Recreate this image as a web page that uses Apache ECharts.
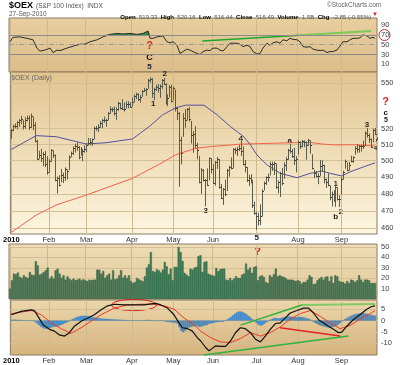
<!DOCTYPE html>
<html><head><meta charset="utf-8">
<script src="https://cdn.jsdelivr.net/npm/echarts@6/dist/echarts.min.js"></script>
<style>html,body{margin:0;padding:0;background:#fff}#c{width:400px;height:365px}</style>
</head><body><div id="c"></div>
<script>
// ---------- data ----------
const monthIdx = [0,19,38,61,82,102,124,145,167];
const monthLbl = ['2010','Feb','Mar','Apr','May','Jun','Jul','Aug','Sep'];
const priceTicks = [460,470,480,490,500,510,520,550];
const rsiTicks = [10,30,50,70,90];
const volTicks = [10,20,30,40,50];
const macdTicks = [-10,-5,0,5];

const high = [519.6,522.3,523.0,524.6,525.8,528.0,525.2,527.1,528.1,528.3,529.5,527.5,523.8,512.7,505.8,506.9,504.9,505.7,502.4,
500.5,506.8,506.1,503.5,490.0,490.8,494.6,492.3,495.5,494.3,503.0,505.3,508.5,510.2,510.9,508.7,508.1,506.6,509.0,
510.4,513.8,513.6,513.5,521.0,521.4,522.6,524.7,525.9,527.5,526.0,530.4,534.2,533.4,534.1,533.4,537.3,536.6,539.0,536.7,537.4,537.5,536.9,
540.0,541.9,543.2,542.9,541.7,544.9,546.5,546.3,552.5,553.6,553.0,546.6,548.6,549.0,548.8,552.4,553.2,549.5,542.1,548.3,548.6,
547.3,545.4,533.6,530.5,514.6,529.8,532.3,533.1,533.6,524.7,518.2,521.3,510.7,502.6,495.1,494.5,488.4,494.9,501.7,501.2,
497.6,499.4,501.9,500.7,485.6,483.1,488.1,494.6,496.5,501.6,507.4,507.6,508.2,509.4,514.1,508.4,500.0,495.7,491.0,491.4,488.1,475.1,
469.1,468.6,473.5,482.3,487.0,490.1,491.8,499.0,499.0,499.0,497.9,487.6,492.8,495.1,498.6,501.8,507.0,510.1,507.0,507.5,502.4,
512.3,511.6,512.6,512.3,511.6,513.2,512.3,503.6,494.0,493.3,491.8,500.1,499.9,497.1,488.8,491.9,484.6,481.0,481.8,484.2,483.5,478.7,
489.6,493.5,500.3,498.6,498.9,502.7,502.4,508.6,510.0,509.5,509.4,512.1,518.0,520.1,516.6,513.5,519.8,520.2];
const low = [513.9,518.8,520.6,519.9,521.6,523.3,519.8,520.3,525.1,519.6,520.8,519.4,511.6,500.6,501.2,499.5,496.8,496.3,491.7,
493.0,499.6,502.0,487.7,480.5,484.7,487.1,486.7,488.0,488.8,494.5,502.4,503.8,505.3,506.4,501.1,503.3,499.9,505.2,
505.6,509.7,509.7,509.4,513.6,519.0,518.2,520.9,520.7,524.2,521.6,525.8,530.0,531.1,528.8,526.1,531.9,532.9,532.6,531.4,533.4,533.6,534.0,
534.5,537.4,539.6,538.3,537.3,541.2,544.5,541.9,546.4,550.6,540.5,538.9,545.0,544.0,540.5,546.6,549.0,536.0,535.0,540.8,537.4,
538.8,531.5,525.9,484.4,498.0,515.2,521.0,525.7,524.9,510.9,505.1,507.8,501.1,486.5,480.1,487.6,473.0,484.9,488.3,492.5,
486.1,485.1,495.2,483.4,477.1,473.7,478.9,481.9,490.4,494.9,495.6,504.3,503.2,506.2,503.2,497.4,493.1,487.3,484.9,486.5,471.9,468.0,
459.5,461.8,462.1,467.0,482.3,485.5,487.5,491.2,494.0,491.5,483.3,480.6,478.4,485.3,489.3,494.0,500.7,504.6,501.9,497.6,493.1,
503.9,507.5,508.6,508.6,500.8,509.5,504.6,494.9,489.6,490.0,486.0,490.7,493.5,486.5,483.7,484.8,476.5,472.8,475.6,472.6,476.3,472.5,
479.9,488.7,495.4,493.8,494.2,499.3,498.9,504.0,505.2,505.2,505.9,507.6,509.4,514.6,511.3,508.2,511.7,516.4];
const close = [519.2,521.7,521.9,524.0,525.5,526.5,521.5,525.9,527.1,521.4,528.0,522.4,512.5,501.1,503.4,501.3,503.8,497.8,492.9,
499.9,506.4,503.7,488.0,489.4,485.0,491.4,490.3,495.0,493.7,502.5,504.7,508.0,509.1,508.6,502.4,507.3,506.2,507.0,
509.9,511.1,511.3,513.2,520.4,520.3,521.2,523.5,525.7,525.5,525.8,529.9,533.0,532.8,530.1,532.8,536.6,533.6,532.7,533.1,536.2,536.2,534.4,
537.2,541.5,542.4,539.2,541.0,544.6,545.6,546.0,552.1,552.5,543.6,546.1,547.4,546.9,548.1,552.0,549.7,536.8,540.3,547.3,538.2,
546.4,533.4,529.9,512.7,504.9,527.1,525.3,532.5,526.1,516.2,516.7,509.4,506.8,487.0,494.4,488.0,488.1,485.4,501.3,495.1,
486.6,499.2,501.2,484.0,477.4,482.7,479.8,494.0,496.1,495.2,506.9,506.6,507.2,507.9,505.9,497.8,496.3,488.0,489.4,488.4,473.2,468.5,
466.9,464.8,467.2,481.9,486.4,489.9,490.3,497.8,497.8,498.4,484.0,486.9,492.4,486.1,497.1,501.2,506.8,506.2,502.7,500.6,500.7,
511.7,509.2,512.3,511.7,509.8,512.6,509.5,495.2,492.5,490.5,490.6,496.6,497.3,488.9,487.1,485.1,478.1,479.6,476.0,483.8,476.7,476.9,
488.8,493.3,499.8,494.1,497.2,499.6,502.1,507.7,507.3,509.1,508.9,509.3,517.1,515.8,513.3,508.6,519.4,516.5];

const ma50 = [[0,506.9],[12.6,515.6],[22.7,514.9],[37.8,510.3],[47.9,511.1],[61.3,513.5],[69.7,521.3],[76.5,528.9],[83.2,533.6],[88.2,535.3],[93.2,535.3],[97.4,535.3],[104.2,528.9],[110.9,521.3],[117.6,514.9],[121,509.7],[124.3,503.4],[129.4,497.3],[136.1,492.2],[144.5,489.6],[151.2,492.2],[157.1,493.6],[161.3,492.2],[167.2,490.6],[171.4,493.1],[178.1,496.1],[184,498.6]];
const ma200 = [[0,457.7],[12.6,467.6],[22.7,473.4],[37.8,479.2],[61.3,489.2],[74.8,497.7],[83.2,503.6],[93.2,507.6],[100.8,508.7],[115.9,510.2],[141.1,511.1],[151.2,511.3],[157.9,510.2],[163,509.8],[174.8,509.8],[184,509.0]];

const rsi = [[0,56],[1.5,65],[5,66],[8.6,63],[11.6,60],[13.6,43],[15.1,37],[17.6,39],[20.2,43],[21.7,34],[23.7,39],[25.2,38],[28.7,43],[31.8,47],[35.3,51],[37.8,51],[40.3,56],[43.9,60],[46.9,66],[50.4,71],[53.9,73],[57,72],[60.5,73],[64,71],[67,73],[69.6,78],[70.6,63],[72.1,63],[74.1,66],[77.1,68],[79.1,56],[80.6,54],[82.2,56],[84.2,49],[85.7,32],[87.2,36],[89.2,41],[90.7,39],[94.3,32],[95.8,30],[97.3,36],[99.3,39],[100.8,38],[102.3,43],[104.3,43],[105.8,39],[107.4,37],[109.4,46],[110.9,53],[114.4,53],[115.9,51],[117.4,46],[119.5,49],[121,46],[122.5,36],[124.5,31],[126,32],[127.5,43],[129.5,53],[131,49],[132.6,54],[134.6,56],[136.1,53],[137.6,60],[139.6,58],[141.1,63],[142.6,61],[144.7,60],[146.2,56],[147.7,46],[149.7,45],[151.2,46],[152.7,41],[154.7,39],[156.3,38],[157.8,39],[159.8,34],[161.3,36],[162.8,36],[164.8,39],[166.3,47],[167.8,56],[169.9,56],[171.4,60],[172.9,63],[174.9,63],[176.4,64],[177.9,70],[179.9,68],[181.5,63],[183,65],[184,63]];
const rsiTrendA = [[97,57.5],[146,69.3]];
const rsiTrendB = [[146,69.3],[182,78]];

const volume = [10.0,18.0,24.4,23.8,25.4,21.2,20.2,22.8,21.2,20.2,26.0,23.4,22.8,36.3,32.4,23.4,24.4,26.0,27.6,30.2,
19.6,21.8,19.6,27.6,29.2,24.4,20.5,22.8,18.6,21.8,19.6,18.0,19.6,18.0,18.6,19.6,18.0,18.9,18.0,17.3,
18.6,18.0,18.6,18.6,28.2,28.2,24.4,26.9,20.5,22.8,24.4,18.6,27.6,18.9,19.6,22.8,27.6,20.5,22.8,20.2,
22.8,17.3,15.4,16.4,20.2,18.9,18.0,17.0,21.8,30.2,33.3,45.2,26.9,26.0,28.6,27.6,25.4,28.2,35.6,31.4,
23.8,29.2,18.0,30.8,30.8,50.0,45.2,36.6,25.1,23.4,21.8,29.2,28.2,30.2,30.8,
41.1,42.1,26.0,35.6,36.3,24.4,23.4,22.8,22.2,29.9,26.6,28.6,29.2,29.2,18.6,18.0,20.2,18.0,19.6,21.8,
20.2,20.2,23.4,24.4,34.1,28.2,30.2,25.1,30.8,31.4,18.0,21.8,22.8,21.2,16.4,15.4,22.8,21.2,23.8,29.2,
21.8,22.8,21.8,21.2,20.2,18.6,18.6,18.6,18.0,17.3,18.0,17.3,14.8,16.4,16.4,18.6,22.8,21.2,14.1,14.8,
18.0,19.6,21.2,18.6,21.2,21.8,17.3,21.8,15.4,22.8,21.8,17.3,16.4,16.4,14.8,17.3,15.4,18.6,18.0,16.4,
18.0,22.8,18.6,16.4,18.6,18.6,18.0,15.4,15.4,15.4];

const macd = [[0,2.6],[5,4.1],[10.1,4.8],[11.7,4.5],[13.5,1.9],[16,-1.8],[19.3,-3.9],[21.8,-4.7],[24.3,-6.4],[26.9,-6.9],[29.4,-5.4],[31.9,-2.5],[35.3,-0.3],[38.7,1.2],[42,2.6],[45.4,4.8],[48.7,6.6],[52.1,7.3],[57.1,7.0],[62.1,7.0],[67.2,7.0],[70.6,7.5],[73.1,7.7],[75.6,7.0],[79,5.6],[82.3,2.6],[84.8,-1.0],[86.5,-3.2],[89.1,-3.6],[91.6,-4.7],[94.1,-7.6],[95.8,-9.1],[98.3,-12.0],[100,-13.5],[101.7,-12.4],[103.3,-11.3],[105.8,-11.5],[108.4,-11.5],[110.9,-9.1],[113.4,-5.4],[115.9,-3.2],[118.4,-3.6],[121,-5.4],[123.5,-8.3],[126,-9.5],[128.5,-6.9],[131,-3.9],[133.6,-1.3],[136.1,-1.0],[138.6,1.2],[141.1,3.4],[144.5,4.5],[147.8,5.6],[150.4,5.6],[152.9,3.4],[155.4,0.4],[157.9,-1.0],[160.4,-2.5],[163,-3.9],[165.5,-5.4],[167.2,-5.1],[169.7,-2.5],[173,0.4],[176.4,2.6],[179.8,5.1],[182.3,6.3],[184,6.6]];
const signal = [[0,3.1],[10.1,4.5],[15.1,2.6],[20.2,-1.0],[25.2,-3.6],[30.2,-5.7],[35.3,-3.2],[40.3,-0.3],[45.4,2.6],[52.1,5.6],[58.8,7.0],[65.5,7.3],[72.2,7.3],[77.3,6.6],[82.3,5.1],[87.3,1.2],[92.4,-1.8],[95.8,-4.7],[100.8,-7.6],[105.8,-9.5],[110.9,-9.8],[115.9,-8.0],[121,-5.4],[126,-6.9],[131,-5.4],[136.1,-2.8],[141.1,0.7],[146.2,3.1],[151.2,4.5],[156.3,1.9],[161.3,-1.0],[166.3,-3.6],[171.4,-2.2],[176.4,0.7],[181.5,3.1],[184,4.5]];
const hist = [0.3,0.4,0.4,0.3,0.3,0.2,0.1,0.1,0.2,0.1,0.1,0.0,
-0.5,-1.2,-2.0,-2.8,-3.3,-3.6,-3.7,-3.5,
-3.1,-2.8,-2.7,-2.5,-2.3,-2.0,-1.6,-1.2,-0.8,-0.4,
0.2,0.7,1.1,1.5,1.8,2.0,2.1,2.2,2.1,2.0,1.8,1.6,1.4,
1.2,1.1,1.0,0.9,0.8,0.8,0.7,0.7,0.6,0.5,0.5,0.4,0.4,0.3,0.3,0.2,0.2,0.2,0.1,0.1,
0.1,0.1,0.0,0.1,0.1,0.2,0.3,0.3,0.1,0.0,
-0.1,-0.1,-0.1,0.0,-0.2,-0.4,-0.6,-0.6,-0.8,-0.8,-1.0,-1.2,
-3.0,-4.6,-5.2,-4.5,-3.6,-3.0,-2.8,-2.6,-2.5,-2.4,-2.8,-2.7,
-2.4,-2.1,-1.9,-1.5,-1.3,-1.1,-0.8,-0.7,-0.5,-0.5,-0.5,-0.2,
0.4,0.9,1.5,2.3,3.0,
3.6,4.0,4.1,3.8,3.4,2.8,2.1,1.4,
0.6,-0.2,-1.0,-1.8,
-2.2,-2.0,-1.4,-0.8,-0.2,0.4,
0.8,1.2,1.1,1.0,1.1,1.3,1.5,1.7,1.8,1.8,1.7,1.6,1.5,1.6,1.7,1.6,1.4,1.1,0.9,0.6,
0.0,-0.6,-1.1,-1.6,-2.0,-2.3,-2.6,-2.8,-3.0,-3.1,-3.0,-2.8,-2.5,-2.0,-1.3,
-0.5,0.2,0.8,1.3,1.8,2.2,2.6,2.9,3.1,3.2,3.3,3.3,3.2,3.0,2.8,2.6,2.4,2.2];
const macdGreenA = [[116,-2.0],[147,7.0]];
const macdGreenB = [[147,7.0],[184,7.4]];
const macdGreenLow = [[97.4,-15.3],[170.5,-6.9]];
const macdRed = [[136,-3.2],[166.3,-6.9]];
const arrowLine = [[184.5,512],[189.5,522.8]];

// ---------- chart ----------
const chart = echarts.init(document.getElementById('c'), null, {renderer:'canvas', width:400, height:365});
const LG = (a,b) => new echarts.graphic.LinearGradient(0,0,0,1,[{offset:0,color:a},{offset:1,color:b}]);
const FONT = 'Liberation Sans, Arial, sans-serif';
const L = 9, R = 23;
const grids = [
  {left:L, right:R, top:18, height:54, show:true, backgroundColor:LG('#e8cf9f','#dcbd8a'), borderColor:'#8a7a5e', borderWidth:1},
  {left:L, right:R, top:72, height:162, show:true, backgroundColor:LG('#e2c490','#fdf6e0'), borderColor:'#8a7a5e', borderWidth:1},
  {left:L, right:R, top:244, height:55, show:true, backgroundColor:LG('#eddcb5','#e3c99a'), borderColor:'#8a7a5e', borderWidth:1},
  {left:L, right:R, top:300, height:55, show:true, backgroundColor:LG('#ecd7ab','#d6b37e'), borderColor:'#8a7a5e', borderWidth:1}
];
const monthFmt = v => { const k = monthIdx.indexOf(v); return k === 0 ? '{y|2010}' : monthLbl[k]; };
function xAx(gi, labels) {
  return {type:'value', gridIndex:gi, min:-0.5, max:185,
    axisLine:{show:false},
    axisTick:{show:false, customValues:monthIdx},
    axisLabel:{show:!!labels, customValues:labels || monthIdx, formatter:monthFmt, fontSize:7.5, fontFamily:FONT, color:'#333', margin:2,
      rich:{y:{fontWeight:'bold', fontSize:7.5, fontFamily:FONT, color:'#000'}}},
    splitLine:{show:true, lineStyle:{color:'#cfb98f', width:1}}};
}
function yAx(gi, type, min, max, ticks, grid) {
  return {type:type, gridIndex:gi, position:'right', min:min, max:max, logBase:10,
    axisLine:{show:false},
    axisTick:{show:false, customValues:ticks},
    axisLabel:{customValues:ticks, fontSize:7.5, fontFamily:FONT, color:'#444', margin:4},
    splitLine:{show:grid, lineStyle:{color:'#d4c096', width:1}}};
}
const line = (name, data, xi, color, w, extra) => Object.assign({type:'line', name, data, xAxisIndex:xi, yAxisIndex:xi, symbol:'none', silent:true, animation:false,
  lineStyle:{color, width:w}, itemStyle:{color}}, extra || {});

const ohlc = close.map((c,i) => [i, high[i], low[i], c]);

const option = {
  animation:false,
  grid: grids,
  xAxis: [xAx(0), xAx(1, [0,19,38,61,82,102,145,167]), xAx(2), xAx(3, monthIdx)],
  yAxis: [yAx(0,'value',-5.7,104.5,rsiTicks,false), yAx(1,'log',456.8,557.6,priceTicks,true), yAx(2,'value',0,52.9,volTicks,true), yAx(3,'value',-15.35,9.2,macdTicks,true)],
  series: [
    line('rsiOver', rsi.map(p => [p[0], Math.max(p[1],70)]), 0, '#2e8b3a', 0, {areaStyle:{origin:70, color:'#2f8a3b', opacity:1}, z:2}),
    line('RSI', rsi, 0, '#2b2b2b', 1, {z:3, markLine:{silent:true, symbol:'none', label:{show:false}, animation:false,
      data:[{yAxis:70, lineStyle:{color:'#8c8c8c', type:'solid', width:1}}, {yAxis:30, lineStyle:{color:'#8c8c8c', type:'solid', width:1}}, {yAxis:50, lineStyle:{color:'#9a9a9a', type:[5,2,1,2], width:1}}]}}),
    line('rsiTrendA', rsiTrendA, 0, '#1ea82f', 1.5, {z:4}),
    line('rsiTrendB', rsiTrendB, 0, '#7cc85a', 2, {z:4}),
    line('MA200', ma200, 1, '#f2604f', 1, {z:3}),
    line('MA50', ma50, 1, '#55509e', 1, {z:3}),
    {type:'custom', name:'OEX', xAxisIndex:1, yAxisIndex:1, data:ohlc, encode:{x:0, y:[1,2]}, z:4, silent:true,
      renderItem:(params, api) => {
        const i = api.value(0);
        const ph = api.coord([i, api.value(1)]), pl = api.coord([i, api.value(2)]), pc = api.coord([i, api.value(3)]);
        const x = Math.round(ph[0]) + 0.5, yc = Math.round(pc[1]) + 0.5;
        return {type:'group', children:[
          {type:'line', shape:{x1:x, y1:ph[1]-0.5, x2:x, y2:pl[1]+0.5}, style:{stroke:'#5c5c4c', lineWidth:1}},
          {type:'line', shape:{x1:x, y1:yc, x2:x+1.5, y2:yc}, style:{stroke:'#3c3c30', lineWidth:1}}
        ]};
      }},
    line('arrow', arrowLine, 1, '#111', 1, {z:6, clip:false}),
    {type:'bar', name:'Volume', xAxisIndex:2, yAxisIndex:2, data:volume.map((v,i)=>[i,v]), barWidth:2, silent:true,
      itemStyle:{color:'#3e7c57', borderColor:'#28573c', borderWidth:0.4}},
    {type:'bar', name:'Hist', xAxisIndex:3, yAxisIndex:3, data:hist.map((v,i)=>[i,v]), barWidth:2, silent:true, z:2,
      itemStyle:{color:'#4a90cc', borderColor:'#2e6fa8', borderWidth:0.3}},
    line('Signal', signal, 3, '#ee3a2a', 1, {z:4}),
    line('MACD', macd, 3, '#111', 1.2, {z:5}),
    line('mg1', macdGreenA, 3, '#2fb33c', 1.5, {z:6}),
    line('mg2', macdGreenB, 3, '#83c86a', 2, {z:6}),
    line('mg3', macdGreenLow, 3, '#2fb33c', 1.5, {z:6}),
    line('mr', macdRed, 3, '#e52222', 1.5, {z:6})
  ],
  graphic: [
    {type:'text', x:9, y:1, style:{text:'$OEX', font:'bold 9px '+FONT, fill:'#000'}},
    {type:'text', x:36, y:2.5, style:{text:'(S&P 100 Index)  INDX', font:'6.5px '+FONT, fill:'#555'}},
    {type:'text', x:9, y:11, style:{text:'27-Sep-2010', font:'6.5px '+FONT, fill:'#555'}},
    {type:'text', x:327, y:2, style:{text:'©StockCharts.com', font:'6.5px '+FONT, fill:'#666'}},
    {type:'text', x:371, y:11, style:{align:'right', text:'{b|Open} {n|519.33} {b|High} {n|520.16} {b|Low} {n|516.44} {b|Close} {n|516.49} {b|Volume} {n|1.5B} {b|Chg} {n|-2.85 (-0.55%)}',
      rich:{b:{font:'bold 6px '+FONT, fill:'#000'}, n:{font:'6px '+FONT, fill:'#555'}}}},
    {type:'text', x:372, y:11.5, style:{text:'▼', font:'6px '+FONT, fill:'#e02020'}},
    {type:'text', x:11, y:75, style:{text:'$OEX (Daily)', font:'7px '+FONT, fill:'#666'}},
    {type:'circle', shape:{cx:384.5, cy:35, r:5.5}, style:{fill:'none', stroke:'#e02020', lineWidth:1}},
    {type:'ellipse', shape:{cx:134, cy:305, rx:22.5, ry:5.6}, style:{fill:'none', stroke:'#e02020', lineWidth:1}},
    {type:'text', x:149.5, y:46, style:{text:'?', font:'bold 11px '+FONT, fill:'#e02020', align:'center', verticalAlign:'middle'}},
    {type:'text', x:149.5, y:58, style:{text:'C', font:'bold 9px '+FONT, fill:'#111', align:'center', verticalAlign:'middle'}},
    {type:'text', x:149.5, y:66.7, style:{text:'5', font:'bold 8px '+FONT, fill:'#223', align:'center', verticalAlign:'middle'}},
    {type:'text', x:153.3, y:103.3, style:{text:'1', font:'bold 8px '+FONT, fill:'#222', align:'center', verticalAlign:'middle'}},
    {type:'text', x:164.7, y:73.5, style:{text:'2', font:'bold 8px '+FONT, fill:'#222', align:'center', verticalAlign:'middle'}},
    {type:'text', x:205.8, y:210.7, style:{text:'3', font:'bold 8px '+FONT, fill:'#222', align:'center', verticalAlign:'middle'}},
    {type:'text', x:240.7, y:139.2, style:{text:'4', font:'bold 8px '+FONT, fill:'#222', align:'center', verticalAlign:'middle'}},
    {type:'text', x:256.7, y:238, style:{text:'5', font:'bold 8px '+FONT, fill:'#223', align:'center', verticalAlign:'middle'}},
    {type:'text', x:289.7, y:140.8, style:{text:'a', font:'bold 8px '+FONT, fill:'#222', align:'center', verticalAlign:'middle'}},
    {type:'text', x:335.7, y:184.2, style:{text:'1', font:'bold 8px '+FONT, fill:'#333', align:'center', verticalAlign:'middle'}},
    {type:'text', x:335.8, y:217.2, style:{text:'b', font:'bold 8px '+FONT, fill:'#222', align:'center', verticalAlign:'middle'}},
    {type:'text', x:340.7, y:211.5, style:{text:'2', font:'bold 8px '+FONT, fill:'#222', align:'center', verticalAlign:'middle'}},
    {type:'text', x:367, y:124.3, style:{text:'3', font:'bold 8px '+FONT, fill:'#222', align:'center', verticalAlign:'middle'}},
    {type:'text', x:375.3, y:148.5, style:{text:'4', font:'bold 6px '+FONT, fill:'#222', align:'center', verticalAlign:'middle'}},
    {type:'text', x:385.7, y:102, style:{text:'?', font:'bold 11px '+FONT, fill:'#e02020', align:'center', verticalAlign:'middle'}},
    {type:'text', x:385.8, y:112.5, style:{text:'c', font:'bold 8px '+FONT, fill:'#111', align:'center', verticalAlign:'middle'}},
    {type:'text', x:386, y:120.5, style:{text:'5', font:'bold 7px '+FONT, fill:'#223', align:'center', verticalAlign:'middle'}},
    {type:'text', x:257.5, y:252, style:{text:'?', font:'bold 11px '+FONT, fill:'#e02020', align:'center', verticalAlign:'middle'}}
  ]
};
chart.setOption(option);
</script></body></html>
